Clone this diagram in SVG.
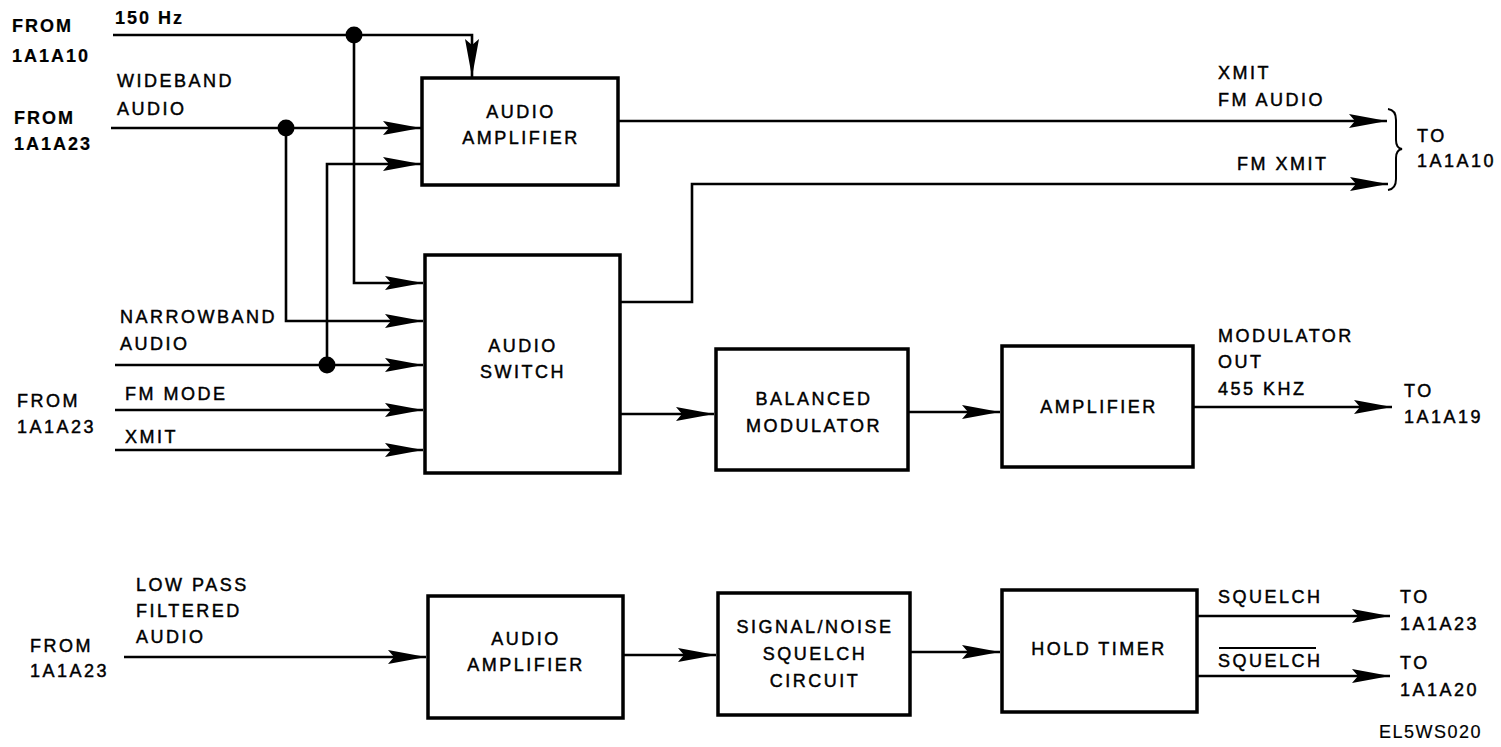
<svg xmlns="http://www.w3.org/2000/svg" width="1501" height="747" viewBox="0 0 1501 747">
<style>
.box{fill:#fff;stroke:#000;stroke-width:3.5}
.w{fill:none;stroke:#000;stroke-width:2.6;marker-end:url(#ah)}
.wn{fill:none;stroke:#000;stroke-width:2.6}
.dot{fill:#000}
text{font-family:"Liberation Sans",Arial,Helvetica,sans-serif;font-size:18px;letter-spacing:2.5px;fill:#000;stroke:#000;stroke-width:0.45}
.b{font-weight:bold;letter-spacing:2px;stroke-width:0.2}
.c{text-anchor:middle}
</style>
<defs>
<marker id="ah" viewBox="0 0 38 14" refX="38" refY="7" markerWidth="38" markerHeight="14" markerUnits="userSpaceOnUse" orient="auto">
<path d="M0,0 L38,7 L0,14 L6,7 Z" fill="#000"/>
</marker>
</defs>
<rect width="1501" height="747" fill="#fff"/>

<g id="connectors">
<path class="w" d="M113,35 H472 V77"/>
<path class="w" d="M354,35 V283 H423"/>
<path class="w" d="M111,128 H421"/>
<path class="w" d="M286,128 V321 H423"/>
<path class="w" d="M115,365 H423"/>
<path class="w" d="M327,365 V164 H421"/>
<path class="w" d="M115,410 H423"/>
<path class="w" d="M115,450 H423"/>
<path class="w" d="M618,121 H1387"/>
<path class="w" d="M620,302 H692 V184 H1388"/>
<path class="w" d="M620,414 H714"/>
<path class="w" d="M908,412 H1000"/>
<path class="w" d="M1193,407 H1392"/>
<path class="w" d="M124,657 H426"/>
<path class="w" d="M623,655 H716"/>
<path class="w" d="M910,652 H1000"/>
<path class="w" d="M1197,616 H1390"/>
<path class="w" d="M1197,676 H1390"/>
<circle class="dot" cx="354" cy="35" r="8.5"/>
<circle class="dot" cx="286" cy="128" r="8.5"/>
<circle class="dot" cx="327" cy="365" r="8.5"/>
<path fill="none" stroke="#000" stroke-width="2" d="M1388,109 Q1396,110 1396,120 L1396,140 Q1396,148 1402,149 Q1396,150 1396,158 L1396,179 Q1396,189 1388,190"/>
</g>

<g id="audio-amplifier-1">
<rect class="box" x="422" y="78" width="196" height="107"/>
<text class="c" x="521" y="118">AUDIO</text>
<text class="c" x="521" y="144">AMPLIFIER</text>
</g>
<g id="audio-switch">
<rect class="box" x="425" y="255" width="195" height="218"/>
<text class="c" x="523" y="352">AUDIO</text>
<text class="c" x="523" y="378">SWITCH</text>
</g>
<g id="balanced-modulator">
<rect class="box" x="716" y="349" width="192" height="121"/>
<text class="c" x="814" y="405">BALANCED</text>
<text class="c" x="814" y="432">MODULATOR</text>
</g>
<g id="amplifier">
<rect class="box" x="1002" y="346" width="191" height="121"/>
<text class="c" x="1099" y="413">AMPLIFIER</text>
</g>
<g id="audio-amplifier-2">
<rect class="box" x="428" y="596" width="195" height="122"/>
<text class="c" x="526" y="645">AUDIO</text>
<text class="c" x="526" y="671">AMPLIFIER</text>
</g>
<g id="signal-noise-squelch">
<rect class="box" x="718" y="593" width="192" height="122"/>
<text class="c" x="815" y="633">SIGNAL/NOISE</text>
<text class="c" x="815" y="660">SQUELCH</text>
<text class="c" x="815" y="687">CIRCUIT</text>
</g>
<g id="hold-timer">
<rect class="box" x="1002" y="590" width="195" height="122"/>
<text class="c" x="1099" y="655">HOLD TIMER</text>
</g>

<g id="labels">
<text class="b" x="12" y="32">FROM</text>
<text class="b" x="12" y="62">1A1A10</text>
<text class="b" x="115" y="24">150 Hz</text>
<text x="117" y="87">WIDEBAND</text>
<text x="117" y="115">AUDIO</text>
<text class="b" x="14" y="124">FROM</text>
<text class="b" x="14" y="150">1A1A23</text>
<text x="120" y="323">NARROWBAND</text>
<text x="120" y="350">AUDIO</text>
<text x="17" y="407">FROM</text>
<text x="17" y="433">1A1A23</text>
<text x="125" y="400">FM MODE</text>
<text x="125" y="443">XMIT</text>
<text x="1218" y="79">XMIT</text>
<text x="1218" y="106">FM AUDIO</text>
<text x="1237" y="170">FM XMIT</text>
<text x="1417" y="142">TO</text>
<text x="1417" y="167">1A1A10</text>
<text x="1218" y="342">MODULATOR</text>
<text x="1218" y="368">OUT</text>
<text x="1218" y="395">455 KHZ</text>
<text x="1404" y="397">TO</text>
<text x="1404" y="423">1A1A19</text>
<text x="136" y="591">LOW PASS</text>
<text x="136" y="617">FILTERED</text>
<text x="136" y="643">AUDIO</text>
<text x="30" y="652">FROM</text>
<text x="30" y="677">1A1A23</text>
<text x="1218" y="603">SQUELCH</text>
<text x="1218" y="667">SQUELCH</text>
<line x1="1219" y1="648" x2="1316" y2="648" stroke="#000" stroke-width="2"/>
<text x="1400" y="603">TO</text>
<text x="1400" y="630">1A1A23</text>
<text x="1400" y="669">TO</text>
<text x="1400" y="696">1A1A20</text>
<text x="1379" y="738" style="letter-spacing:1.5px;stroke-width:0.2">EL5WS020</text>
</g>
</svg>
